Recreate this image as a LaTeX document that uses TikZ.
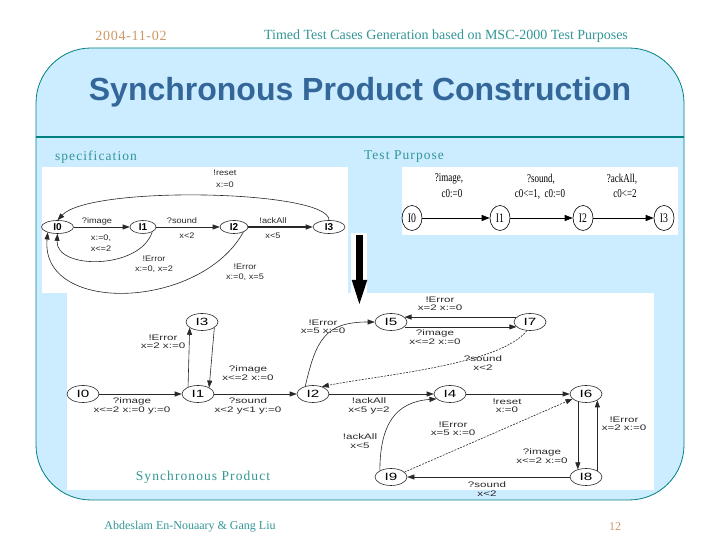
\documentclass[tikz,border=0pt]{standalone}
\usepackage{fontspec}
\setmainfont{Liberation Serif}
\newfontfamily\titlef{Liberation Sans}
\newfontfamily\pfont[FakeStretch=1.45]{Liberation Sans}
\newfontfamily\sfontx[FakeStretch=1.15]{Liberation Sans}
\newfontfamily\tpfont[FakeStretch=0.75]{Liberation Serif}
\newfontfamily\spaced[LetterSpace=8]{Liberation Serif}
\newfontfamily\dspaced[LetterSpace=5]{Liberation Serif}
\usetikzlibrary{arrows.meta,shapes.geometric}
\definecolor{bgblue}{RGB}{204,236,255}
\definecolor{tealc}{RGB}{51,150,150}
\definecolor{framec}{RGB}{0,128,128}
\definecolor{tanc}{RGB}{204,153,102}
\definecolor{titlec}{RGB}{51,102,153}
\definecolor{linec}{RGB}{40,40,40}
\tikzset{
  pst/.style={ellipse, draw=linec, line width=0.6pt, minimum width=32pt, minimum height=17pt, inner sep=0pt, font=\pfont\fontsize{10.5}{10.5}\selectfont},
  pl/.style={font=\pfont\fontsize{8}{8.5}\selectfont, text=linec, inner sep=0pt, align=center},
  parr/.style={draw=linec, line width=0.6pt, -{Triangle[length=7pt,width=5pt]}},
  pdash/.style={parr, dash pattern=on 2pt off 1.2pt},
  sst/.style={ellipse, draw=linec, line width=0.6pt, minimum height=13pt, inner sep=0pt, font=\titlef\bfseries\fontsize{10}{10}\selectfont},
  sl/.style={font=\sfontx\fontsize{8}{10}\selectfont, text=linec, inner sep=0pt, align=center},
  sarr/.style={draw=linec, line width=0.6pt, -{Triangle[length=7pt,width=5pt]}},
  tst/.style={ellipse, draw=black, line width=0.6pt, minimum width=20pt, minimum height=25pt, inner sep=0pt, font=\tpfont\fontsize{13}{13}\selectfont},
  tl/.style={font=\tpfont\fontsize{12}{12}\selectfont, inner sep=0pt},
  tarr/.style={draw=black, line width=0.8pt, -{Triangle[length=8pt,width=6pt]}},
  serift/.style={font=\spaced\fontsize{13.5}{13.5}\selectfont, text=tealc, inner sep=0pt},
  whitebox/.style={fill=white, draw=none}
}
\begin{document}
\begin{tikzpicture}[x=1pt,y=1pt]
\useasboundingbox (0,0) rectangle (720,540);
\fill[white] (0,0) rectangle (720,540);
% frame
\draw[draw=framec, fill=bgblue, line width=0.8pt, rounded corners=55] (36,40) rectangle (684,492);
\draw[framec, line width=1.8pt] (36,403) -- (684,403);
% header / footer
\node[font=\dspaced\fontsize{14}{14}\selectfont, text=tanc, inner sep=0pt] (date) at (131,504) {2004-11-02};
\node[font=\fontsize{14}{14}\selectfont, text=tealc, inner sep=0pt] (head) at (446,504) {Timed Test Cases Generation based on MSC-2000 Test Purposes};
\node[font=\fontsize{12}{12}\selectfont, text=tealc, inner sep=0pt] (auth) at (190,13) {Abdeslam En-Nouaary \& Gang Liu};
\node[font=\fontsize{12}{12}\selectfont, text=tanc, inner sep=0pt] (page) at (615,13) {12};
% title
\node[font=\titlef\bfseries\fontsize{32}{32}\selectfont, text=titlec, inner sep=0pt] (title) at (360,448) {Synchronous Product Construction};
% section labels
\node[serift] (spec) at (96,383) {specification};
\node[serift] (tp) at (404,383) {Test Purpose};
% white panels
\fill[whitebox] (42,247) rectangle (348,373);
\fill[whitebox] (402,305) rectangle (678,373);
\fill[whitebox] (351,245) rectangle (367,307);
\fill[whitebox] (67,50) rectangle (654,247);
\node[serift] (sp) at (203,63) {Synchronous Product};
% big arrow
\fill[black] (356,305) rectangle (362.8,259);
\fill[black] (351.7,260) -- (367.3,260) -- (359.4,236) -- cycle;

% ---------------- specification
\node[sst, minimum width=32pt] (s0) at (57.5,313) {I0};
\node[sst, minimum width=26pt] (s1) at (143,313) {I1};
\node[sst, minimum width=28pt] (s2) at (234,313) {I2};
\node[sst, minimum width=32pt] (s3) at (329,313) {I3};
\draw[sarr] (s0) -- (s1);
\draw[sarr] (s1) -- (s2);
\draw[sarr, line width=1.2pt] (s2) -- (s3);
\draw[sarr] (s3.north) .. controls (330,350) and (90,355) .. (s0.north);
\draw[sarr] (s1.332) .. controls (140,270) and (55,270) .. (s0.south);
\draw[sarr] (s2.331) .. controls (200,230) and (40,225) .. (s0.209);
\node[sl] (sa) at (97,319) {?image};
\node[sl, font=\sfontx\fontsize{8}{11}\selectfont] (sb) at (101,296.5) {x:=0,\\x<=2};
\node[sl] (sc) at (182,319) {?sound};
\node[sl] (sd) at (187,304) {x<2};
\node[sl] (se) at (273,319) {!ackAll};
\node[sl] (sf) at (273,304) {x<5};
\node[sl, font=\sfontx\fontsize{8}{12}\selectfont] (sg) at (225,361) {!reset\\x:=0};
\node[sl] (sh) at (154,276) {!Error\\x:=0, x=2};
\node[sl] (si) at (245,268) {!Error\\x:=0, x=5};

% ---------------- test purpose
\node[tst] (t0) at (412,322) {I0};
\node[tst] (t1) at (500,322) {I1};
\node[tst] (t2) at (583,322) {I2};
\node[tst] (t3) at (664,322) {I3};
\draw[tarr] (t0) -- (t1);
\draw[tarr] (t1) -- (t2);
\draw[tarr] (t2) -- (t3);
\node[tl] (ta) at (449,361) {?image,};
\node[tl] (tb) at (452,346) {c0:=0};
\node[tl] (tc) at (541,361) {?sound,};
\node[tl] (td) at (540,346) {c0<=1,\ \ c0:=0};
\node[tl] (te) at (622,361) {?ackAll,};
\node[tl] (tf) at (625,346) {c0<=2};

% ---------------- product
\node[pst] (I0) at (83,146) {I0};
\node[pst] (I1) at (198,146) {I1};
\node[pst] (I2) at (313,146) {I2};
\node[pst] (I3) at (202,218) {I3};
\node[pst] (I5) at (391,218) {I5};
\node[pst] (I7) at (530,218) {I7};
\node[pst] (I4) at (450,146) {I4};
\node[pst] (I6) at (586,146) {I6};
\node[pst] (I9) at (391,63) {I9};
\node[pst] (I8) at (586,63) {I8};

\draw[parr] (I0) -- (I1);
\draw[parr] (I1) -- (I2);
\draw[parr] (I1.145) -- (I3.205);
\draw[parr] (I3.335) -- (I1.30);
\draw[parr] (I2.135) .. controls (316,200) and (325,218) .. (I5.west);
\draw[parr] (I7.160) -- (I5.20);
\draw[parr] (I5.340) -- (I7.200);
\draw[pdash] (I7.250) .. controls (500,175) and (380,165) .. (I2.40);
\draw[parr] (I2) -- (I4);
\draw[parr] (I4) -- (I6);
\draw[parr] (I9.150) .. controls (380,115) and (395,138) .. (I4.200);
\draw[pdash] (I9.20) -- (I6.200);
\draw[parr] (I6.223) -- (I8.137);
\draw[parr] (I8.29) -- (I6.331);
\draw[parr] (I8) -- (I9);

\node[pl] (L01) at (132,134) {?image\\x<=2 x:=0 y:=0};
\node[pl] (L12) at (248,134) {?sound\\x<2 y<1 y:=0};
\node[pl] (L13) at (163,198) {!Error\\x=2 x:=0};
\node[pl] (L31) at (248,167) {?image\\x<=2 x:=0};
\node[pl] (L25) at (323,213) {!Error\\x=5 x:=0};
\node[pl] (L75) at (440,236) {!Error\\x=2 x:=0};
\node[pl] (L57) at (435,203) {?image\\x<=2 x:=0};
\node[pl] (L72) at (483,177) {?sound\\x<2};
\node[pl] (L24) at (369,134) {!ackAll\\x<5 y=2};
\node[pl] (L46) at (507,134) {!reset\\x:=0};
\node[pl] (L94) at (360,99) {!ackAll\\x<5};
\node[pl] (L96) at (453,111) {!Error\\x=5 x:=0};
\node[pl] (L68) at (542,84) {?image\\x<=2 x:=0};
\node[pl] (L86) at (624,116) {!Error\\x=2 x:=0};
\node[pl] (L89) at (487,51) {?sound\\x<2};
\end{tikzpicture}
\end{document}
